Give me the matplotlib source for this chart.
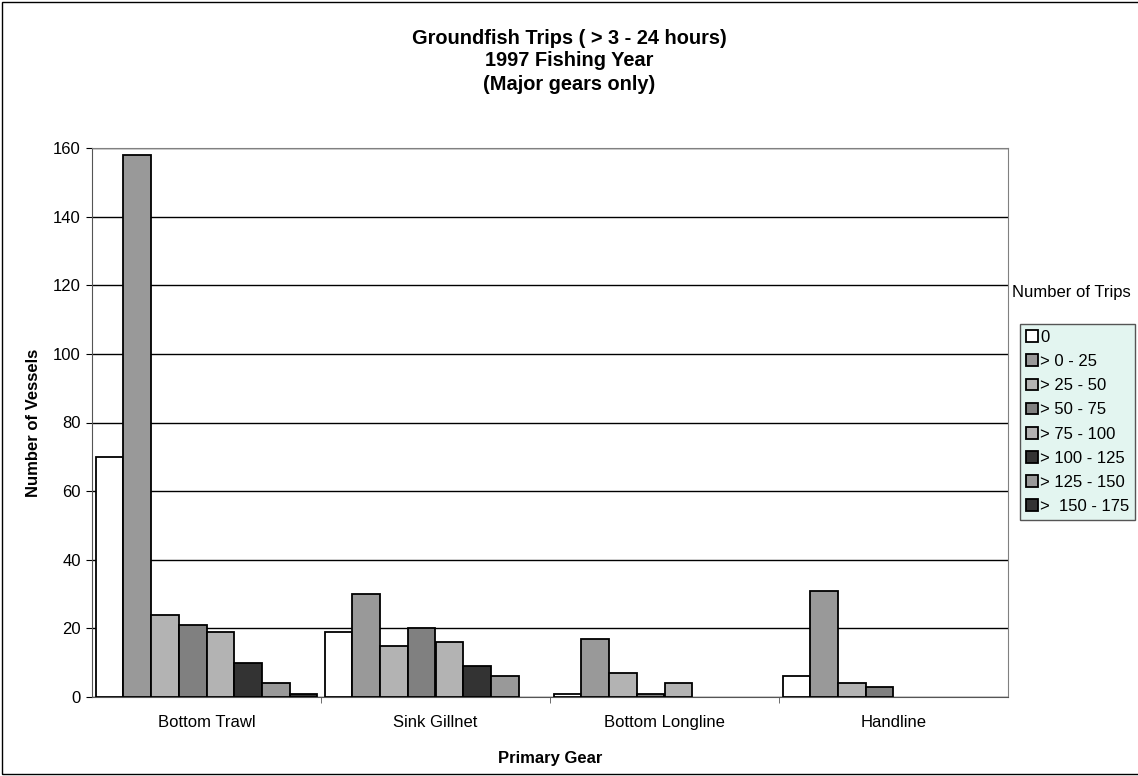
import numpy as np
import matplotlib
matplotlib.use("Agg")
import matplotlib.pyplot as plt
from matplotlib.patches import Rectangle

plt.rcParams['font.family'] = ['Liberation Sans', 'DejaVu Sans']

gears = ["Bottom Trawl", "Sink Gillnet", "Bottom Longline", "Handline"]
trip_bins = ["0", "> 0 - 25", "> 25 - 50", "> 50 - 75", "> 75 - 100",
             "> 100 - 125", "> 125 - 150", ">  150 - 175"]
vessels = [
    [70, 19, 1, 6],     # 0
    [158, 30, 17, 31],  # > 0 - 25
    [24, 15, 7, 4],     # > 25 - 50
    [21, 20, 1, 3],     # > 50 - 75
    [19, 16, 4, 0],     # > 75 - 100
    [10, 9, 0, 0],      # > 100 - 125
    [4, 6, 0, 0],       # > 125 - 150
    [1, 0, 0, 0],       # > 150 - 175
]
bar_colors = ["#ffffff", "#999999", "#b3b3b3", "#808080",
              "#b3b3b3", "#333333", "#999999", "#333333"]
title_lines = ["Groundfish Trips ( > 3 - 24 hours)", "1997 Fishing Year",
               "(Major gears only)"]

W, H = 1138, 776
fig = plt.figure(figsize=(W / 100, H / 100), dpi=100)
ax = fig.add_axes([92 / W, 1 - 697 / H, (1008 - 92) / W, (697 - 148) / H])

x = np.arange(len(gears))
width = 0.121
n = len(trip_bins)
for i, (lab, vals, col) in enumerate(zip(trip_bins, vessels, bar_colors)):
    offs = (i - (n - 1) / 2) * width
    v = np.array(vals, dtype=float)
    v[v == 0] = np.nan  # empty classes draw nothing
    ax.bar(x + offs, v, width, color=col, edgecolor="black", linewidth=1.3,
           label=lab, zorder=3)

ax.set_xlim(-0.5, len(gears) - 0.5)
ax.set_ylim(0, 160)
ax.set_yticks(np.arange(0, 161, 20))
ax.yaxis.grid(True, color="black", linewidth=1)
ax.set_axisbelow(True)
ax.set_xticks(x)
ax.set_xticklabels(gears, fontsize=12)
ax.set_xticks(np.arange(0.5, len(gears) - 0.5, 1), minor=True)
ax.tick_params(axis="x", which="major", length=0, pad=13)
ax.tick_params(axis="x", which="minor", length=4, direction="out", color="#555555")
ax.tick_params(axis="y", labelsize=12, length=4, direction="out", pad=4)
for s in ["top", "right"]:
    ax.spines[s].set_color("#808080")
ax.spines["left"].set_color("#555555")
ax.spines["bottom"].set_color("#555555")

ax.set_xlabel("Primary Gear", fontsize=12, fontweight="bold", labelpad=15)
ax.set_ylabel("Number of Vessels", fontsize=12, fontweight="bold", labelpad=9)

for yc, line in zip([38, 61, 84], title_lines):
    fig.text(0.5, 1 - yc / H, line, ha="center", va="center",
             fontsize=14.4, fontweight="bold")

fig.text(1012 / W, 1 - 293 / H, "Number of Trips", fontsize=12, va="center")
leg = ax.legend(loc="upper left", bbox_to_anchor=(1020 / W, 1 - 324 / H),
                bbox_transform=fig.transFigure, frameon=True, fontsize=12,
                handlelength=0.7, handleheight=0.7, handletextpad=0.15,
                labelspacing=0.55, borderpad=0.35, borderaxespad=0, fancybox=False)
leg.get_frame().set_facecolor("#e3f5f0")
leg.get_frame().set_edgecolor("#555555")
leg.get_frame().set_alpha(1)

fig.patches.append(Rectangle((2 / W, 2 / H), 1.2, 1 - 4 / H,
                             transform=fig.transFigure, fill=False,
                             edgecolor="black", linewidth=1))

fig.savefig("out.png", dpi=100)
